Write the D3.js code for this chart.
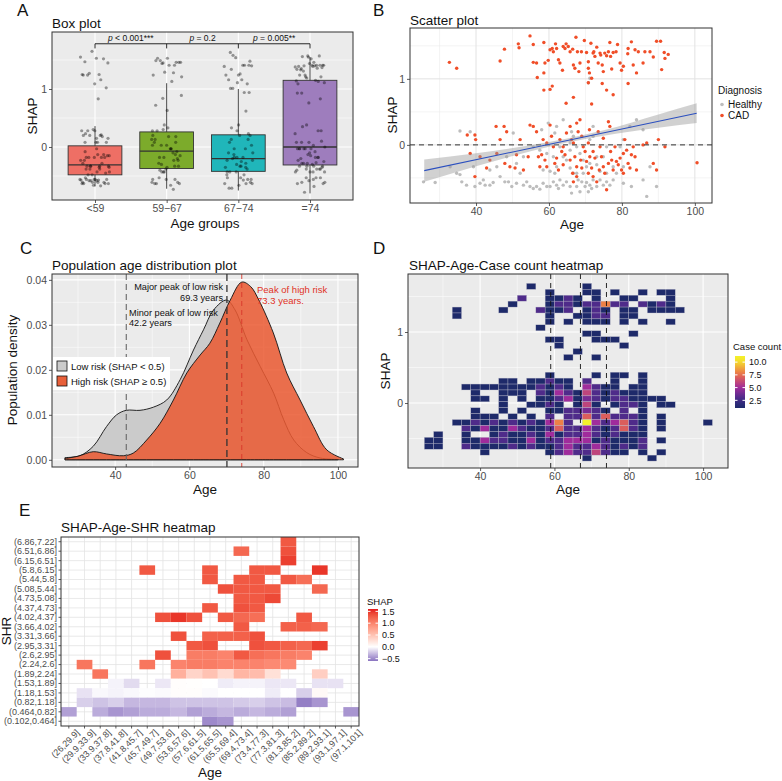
<!DOCTYPE html>
<html>
<head>
<meta charset="utf-8">
<script src="https://cdn.jsdelivr.net/npm/d3@7"></script>
<style>
body { margin: 0; background: #fff; }
svg { font-family: "Liberation Sans", Arial, sans-serif; }
</style>
</head>
<body>
<svg width="782" height="781"></svg>
<script>
// ---- data ----

// A: box plot per age group
var ageGroups = ["<59", "59\u221267", "67\u221274", "=74"];
var groupBreaks = [59, 67, 74];
var boxLower  = [-0.68, -0.72, -0.75, -0.80];
var boxQ1     = [-0.48, -0.37, -0.42, -0.31];
var boxMedian = [-0.31, -0.07, -0.20, 0.00];
var boxQ3     = [0.02, 0.26, 0.21, 1.15];
var boxUpper  = [0.36, 1.10, 1.00, 1.55];
var boxColors = ["#ee6f65", "#7cab2b", "#20b6ba", "#9e7dbd"];
var pValues = ["< 0.001***", "= 0.2", "= 0.005**"];

// B: scatter (age, SHAP)
var cadPoints = [
  [32.7,1.25],[34.7,1.16],[46.6,1.27],[47.8,1.45],[51.6,1.53],[51.8,1.47],[55.7,1.52],[54.8,1.65],[58.6,1.55],
  [55.7,1.25],[56.6,1.24],[56.8,1.02],[58.6,1.09],[58.9,1.24],[59.8,1.28],[60.3,1.44],[60.9,1.46],[61.2,1.41],
  [61.8,1.53],[62.1,1.46],[62.6,1.29],[63.0,1.24],[63.7,1.13],[63.9,1.49],[64.4,1.46],[64.7,1.53],[65.3,1.49],
  [65.8,1.41],[66.5,1.45],[66.7,1.21],[67.1,1.16],[67.4,1.63],[67.8,1.41],[68.2,1.11],[68.5,1.24],[68.9,1.41],
  [69.7,1.58],[70.3,1.40],[70.8,1.26],[70.8,1.16],[71.1,1.09],[71.5,1.54],[72.1,1.39],[72.3,1.41],[72.6,1.34],
  [73.1,1.48],[73.5,1.24],[74.0,1.39],[74.2,1.36],[74.6,1.21],[74.9,1.11],[75.3,1.39],[75.8,1.35],[76.3,1.41],
  [76.7,1.55],[76.9,1.34],[77.2,1.15],[77.6,1.40],[78.4,1.41],[78.8,1.52],[79.5,1.24],[79.9,1.13],[80.4,1.19],
  [81.6,1.38],[81.7,1.46],[82.6,1.56],[83.1,1.21],[83.6,1.44],[84.0,1.09],[84.5,1.41],[85.8,1.24],[86.3,1.41],
  [87.7,1.41],[88.6,1.33],[89.5,1.57],[90.6,1.57],[90.9,1.14],[91.6,1.40],[91.8,1.31],[92.7,1.37],
  [64.7,0.63],[66.7,0.72],[71.7,0.62],[60.3,0.84],[60.9,0.89],[58.6,0.83],[74.6,0.93],[75.8,0.83],[77.6,0.76],
  [81.7,0.93],[70.8,0.94],[71.7,1.01],
  [37.6,0.15],[39.7,0.15],[39.9,0.08],[38.4,-0.13],[39.7,-0.48],[43.8,-0.23],[42.9,-0.35],[45.5,0.28],[46.6,0.08],
  [47.7,0.28],[48.4,0.20],[47.9,-0.28],[49.3,-0.33],[50.7,-0.35],[52.1,0.08],[53.0,-0.38],[54.3,-0.18],[54.8,0.30],
  [55.7,0.28],[56.6,0.20],[57.1,-0.18],[58.0,-0.15],[58.4,0.08],[58.9,-0.23],[59.4,-0.33],[60.3,0.30],[60.7,0.13],
  [61.2,-0.03],[61.6,-0.28],[62.1,-0.20],[62.6,-0.38],[63.0,0.08],[63.5,-0.10],[63.9,-0.30],[64.4,-0.15],[64.8,0.18],
  [65.8,0.28],[66.2,0.08],[66.5,-0.43],[66.7,-0.56],[67.1,-0.18],[67.6,0.33],[68.0,0.20],[68.5,0.38],[68.7,-0.23],
  [69.0,-0.35],[69.4,-0.03],[69.9,-0.10],[70.3,-0.25],[70.8,-0.43],[71.1,0.23],[71.2,-0.18],[71.7,-0.35],[72.1,-0.48],
  [72.6,-0.20],[73.1,-0.56],[73.5,0.20],[74.0,-0.03],[74.4,-0.18],[74.9,-0.33],[75.3,-0.43],[75.8,-0.68],[76.3,0.35],
  [76.7,0.28],[76.9,-0.10],[77.2,-0.23],[77.6,-0.38],[78.1,-0.03],[78.5,-0.25],[79.0,-0.30],[79.5,-0.20],[79.9,-0.38],
  [80.4,-0.13],[80.8,0.08],[81.3,-0.08],[81.7,-0.28],[82.2,-0.35],[82.6,-0.15],[83.1,-0.03],[83.6,-0.18],[84.0,-0.38],
  [85.8,0.00],[86.8,0.03],[88.6,-0.28],[89.5,-0.38],[90.0,0.08],[91.8,-0.03],[100.6,-0.27],
  [66.7,0.03],[70.8,0.03],[67.6,-0.33],[72.1,-0.10],[73.8,-0.38],[76.3,-0.28],[59.4,0.03],[63.9,-0.03],[69.0,0.13],
  [74.9,0.10],[80.4,-0.43],[67.6,-0.48],[65.8,-0.23],[57.5,-0.33],[51.1,-0.15],[45.7,-0.13],[41.1,-0.18]
];
var healthyPoints = [
  [25.6,-0.56],[28.8,-0.57],[32.9,-0.33],[35.6,-0.45],[36.1,-0.56],[37.4,-0.61],[35.6,0.21],[38.4,0.20],[39.7,-0.63],
  [41.1,-0.58],[42.0,-0.53],[42.5,-0.61],[43.8,-0.61],[44.7,-0.57],[45.7,-0.33],[46.6,-0.48],[47.9,-0.56],[48.9,-0.56],
  [49.8,-0.63],[50.2,0.18],[51.1,-0.58],[52.1,-0.43],[53.0,-0.61],[53.9,-0.56],[54.8,-0.63],[55.7,-0.66],[56.6,-0.63],
  [57.5,-0.67],[58.4,-0.58],[59.4,-0.63],[59.8,0.33],[60.3,-0.63],[61.2,-0.56],[61.6,-0.43],[62.1,-0.61],[62.6,-0.66],
  [63.0,-0.53],[63.9,-0.61],[64.8,-0.56],[65.8,-0.63],[66.2,-0.73],[66.7,-0.43],[67.6,-0.63],[68.0,-0.53],[68.5,-0.71],
  [69.0,-0.56],[69.4,-0.43],[69.9,-0.63],[70.3,-0.57],[70.8,-0.71],[71.2,-0.61],[71.7,-0.66],[72.1,-0.53],[73.1,-0.63],
  [74.0,-0.53],[74.9,-0.61],[75.8,-0.56],[76.7,-0.61],[77.6,-0.53],[80.4,-0.58],[82.6,-0.63],[85.8,-0.53],[86.8,-0.78],
  [89.5,-0.63],[55.7,-0.03],[57.5,-0.08],[59.4,-0.13],[61.2,-0.18],[62.1,0.28],[63.0,-0.03],[63.9,-0.18],[64.8,-0.23],
  [65.8,0.03],[66.7,0.13],[67.6,-0.03],[68.5,-0.13],[69.4,-0.23],[70.3,-0.33],[71.2,0.08],[72.1,0.13],[73.1,-0.30],
  [74.0,-0.40],[74.9,-0.18],[75.8,-0.03],[77.6,-0.33],[79.5,-0.03],[80.4,-0.33],[82.2,0.28],[84.0,0.38],[85.8,0.23],
  [87.7,-0.33],[71.2,1.01],[70.8,0.94],[53.0,-0.18],[51.1,-0.28],[48.4,-0.18],[43.8,-0.38],[39.3,-0.33],[34.7,-0.43],
  [58.0,0.23],[61.6,0.18],[63.9,0.38],[66.2,0.20],[58.4,-0.38],[60.3,-0.40],[62.1,-0.33],[65.8,-0.35],[67.6,-0.43],
  [71.2,-0.28],[73.1,-0.18],[75.8,-0.43],[78.5,-0.43],[80.4,0.08],[65.8,-0.08],[72.1,0.28]
];
var fitAge  = [25.8, 100.5];
var fitShap = [-0.39, 0.48];
var bandAge   = [25.8, 40, 55, 65, 75, 90, 100.5];
var bandLower = [-0.56, -0.325, -0.095, 0.037, 0.14, 0.26, 0.33];
var bandUpper = [-0.22, -0.125, -0.005, 0.097, 0.22, 0.46, 0.63];

// C: age densities
var lowRiskAge  = [26.5, 30.5, 34.1, 37.7, 40.4, 43.0, 46.7, 50.3, 53.9, 57.5, 61.1, 63.8, 66.5, 70.0, 72.3, 75.5, 79.1, 82.7, 85.4, 88.1, 91.6, 95.2, 100];
var lowRiskDens = [0.0005, 0.0009, 0.003, 0.0074, 0.0100, 0.0110, 0.0110, 0.0117, 0.0133, 0.0178, 0.0244, 0.0289, 0.0333, 0.0355, 0.0333, 0.0267, 0.0207, 0.0148, 0.0089, 0.0044, 0.0016, 0.0004, 0.0001];
var highRiskAge  = [26.5, 30, 34.1, 37.7, 42.2, 44.9, 48.5, 52.1, 55.7, 59.3, 62.9, 65.5, 68.2, 71, 74.1, 76.5, 78.7, 82.6, 86.2, 89.8, 93.4, 97, 101.5];
var highRiskDens = [0.0003, 0.0008, 0.0018, 0.0013, 0.0009, 0.0015, 0.0044, 0.0081, 0.0133, 0.0193, 0.0233, 0.0259, 0.0304, 0.0355, 0.0395, 0.0385, 0.0355, 0.0282, 0.0193, 0.0133, 0.0074, 0.0022, 0.0002];
var peakLineAges = [43.0, 70.1, 74.1];

// D: case counts per (age, SHAP) bin, top row first; '.' empty, digits base 36
var countAgeStart = 25, countAgeStep = 2.5;
var countShapStart = -0.817, countShapStep = 0.0834;
var countRows = [
  "..... ..... .1... ..1.. ..... ..... .",
  "..... ..... ...1. ..11. 1..1. 11... .",
  "..... ..... 3..11 31.1. .11.. .1... .",
  "..... ....1 ...13 31338 33.31 31... .",
  "...1. ...1. ..311 3.131 .11.1 111.. .",
  "...1. ..... ...1. .1133 .11.. ..... .",
  "..... ..... ...1. 1.111 .1.1. .1... .",
  "..... ..... ..1.. ..... ..... ..... .",
  "..... ..... ..... ..11. ..1.. ..... .",
  "..... ..... ...11 ...11 1.... ..... .",
  "..... ..... ....1 ..... .1... ..... .",
  "..... ..... ..... .1... ..... ..... .",
  "..... ..... ..... 1..1. ..... ..... .",
  "..... ..... ..... ..... ..... ..... .",
  "..... ..... ..... ..... ..... ..... .",
  "..... ..... ...1. ...1. 11.1. ..... .",
  "..... ...11 .1131 1.3.. 1..1. ..... .",
  "....1 11111 11313 1.531 1.11. ..... .",
  "..... 1..11 1.315 31631 3111. ..... .",
  "..... 11.1. 1.113 51431 33111 1.... .",
  "..... ...1. .1131 .161. 1331. 11... .",
  "..... 1..1. 1..11 33431 .3.1. ..... .",
  "..... 111.1 .1.3. 33737 3331. 1.... .",
  "...11 31313 13158 3.b53 5731. 1.... 1",
  "....3 15115 31137 33531 3731. 1.... .",
  ".1..1 ..131 13151 33531 3111. ..... .",
  "11..1 15331 15133 55513 1113. 1.... .",
  "11..3 11113 13113 53353 1313. ..... .",
  "..... .1... ...13 53363 11.1. 1.... .",
  "..... ..... ..... ..1.. ....1 ..... ."
];

// E: SHAP by SHR bin (rows, top first) and age bin (columns)
var shrBins = ["(6.86,7.22]", "(6.51,6.86]", "(6.15,6.51]", "(5.8,6.15]", "(5.44,5.8]", "(5.08,5.44]", "(4.73,5.08]",
  "(4.37,4.73]", "(4.02,4.37]", "(3.66,4.02]", "(3.31,3.66]", "(2.95,3.31]", "(2.6,2.95]", "(2.24,2.6]", "(1.89,2.24]",
  "(1.53,1.89]", "(1.18,1.53]", "(0.82,1.18]", "(0.464,0.82]", "(0.102,0.464]"];
var shrAgeBins = ["(26,29.9]", "(29.9,33.9]", "(33.9,37.8]", "(37.8,41.8]", "(41.8,45.7]", "(45.7,49.7]", "(49.7,53.6]",
  "(53.6,57.6]", "(57.6,61.5]", "(61.5,65.5]", "(65.5,69.4]", "(69.4,73.4]", "(73.4,77.3]", "(77.3,81.3]", "(81.3,85.2]",
  "(85.2,89.2]", "(89.2,93.1]", "(93.1,97.1]", "(97.1,101]"];
// [row, column, SHAP]
var shapCells = [
  [0,14,1.3],
  [1,11,1.2],[1,14,1.35],
  [2,14,1.45],
  [3,5,1.3],[3,9,1.3],[3,12,1.3],[3,13,1.3],[3,16,1.5],
  [4,9,1.3],[4,11,1.3],[4,12,1.3],[4,14,1.3],[4,15,1.15],
  [5,10,1.35],[5,11,1.3],[5,12,1.3],[5,13,1.3],[5,16,1.2],
  [6,11,1.3],[6,12,1.3],[6,13,1.4],
  [7,9,1.3],[7,11,1.35],[7,12,1.3],
  [8,6,1.35],[8,7,1.5],[8,8,1.35],[8,10,1.3],[8,11,1.2],[8,12,1.15],[8,15,1.3],
  [9,11,1.3],[9,14,1.25],[9,15,1.25],[9,16,1.2],
  [10,7,1.35],[10,9,1.25],[10,10,1.25],[10,11,1.25],[10,12,1.35],
  [11,8,1.3],[11,9,1.35],[11,12,1.35],[11,13,1.3],[11,14,1.25],[11,15,1.2],[11,16,1.45],
  [12,6,1.35],[12,8,1.05],[12,9,1.05],[12,10,1.0],[12,11,1.3],[12,12,1.15],[12,13,1.1],[12,14,1.05],[12,15,1.0],
  [13,1,1.1],[13,5,1.1],[13,7,1.0],[13,8,1.05],[13,9,1.05],[13,10,1.0],[13,11,1.0],[13,12,1.0],[13,13,0.95],[13,14,0.95],
  [14,2,1.1],[14,7,0.65],[14,8,0.35],[14,9,0.5],[14,10,0.3],[14,11,0.6],[14,12,0.55],[14,13,0.25],[14,16,0.4],
  [15,3,-0.05],[15,4,-0.15],[15,6,-0.1],[15,7,0.02],[15,8,0.01],[15,9,0.0],[15,10,-0.08],[15,11,-0.05],[15,12,-0.05],
  [15,13,-0.1],[15,14,-0.1],[15,16,-0.12],[15,17,-0.12],
  [16,1,-0.12],[16,2,-0.03],[16,3,-0.05],[16,4,-0.03],[16,5,-0.01],[16,6,-0.02],[16,7,0.02],[16,8,0.02],[16,9,-0.02],
  [16,10,0.0],[16,11,0.0],[16,12,0.0],[16,13,-0.08],[16,14,0.0],[16,15,-0.2],[16,16,0.05],
  [17,1,-0.2],[17,2,-0.25],[17,3,-0.2],[17,4,-0.3],[17,5,-0.3],[17,6,-0.3],[17,7,-0.25],[17,8,-0.25],[17,9,-0.25],
  [17,10,-0.25],[17,11,-0.22],[17,12,-0.2],[17,13,-0.25],[17,14,-0.28],[17,15,-0.55],[17,16,-0.45],
  [18,0,-0.4],[18,2,-0.35],[18,3,-0.45],[18,4,-0.4],[18,5,-0.35],[18,6,-0.35],[18,7,-0.3],[18,8,-0.4],[18,9,-0.35],
  [18,10,-0.3],[18,11,-0.35],[18,12,-0.3],[18,13,-0.35],[18,14,-0.4],[18,18,-0.45],
  [19,9,-0.5],[19,10,-0.45]
];

// ---- drawing ----
var svg = d3.select("svg");
var sans = '"Liberation Sans", Arial, sans-serif';
var narrow = '"Liberation Sans Narrow", "Arial Narrow", "Liberation Sans", sans-serif';
var tickGrey = "#4d4d4d";

function label(x, y, s, size, anchor, fill) {
  return svg.append("text").attr("x", x).attr("y", y).attr("font-size", size)
    .attr("text-anchor", anchor || "start").attr("fill", fill || "#111").text(s);
}
function vlabel(x, y, s, size) {
  return svg.append("text").attr("transform", "translate(" + x + "," + y + ") rotate(-90)")
    .attr("font-size", size).attr("text-anchor", "middle").attr("fill", "#111").text(s);
}
function styleAxis(g, size) {
  g.select(".domain").remove();
  g.selectAll(".tick line").attr("stroke", "#333").attr("stroke-width", 0.8);
  g.selectAll(".tick text").attr("fill", tickGrey).attr("font-size", size || 10.5).attr("font-family", sans);
}
function border(x0, y0, x1, y1) {
  svg.append("rect").attr("x", x0).attr("y", y0).attr("width", x1 - x0).attr("height", y1 - y0)
    .attr("fill", "none").attr("stroke", "#333").attr("stroke-width", 1);
}
function grid(g, xs, ys, xTicks, yTicks, color, w, x0, x1, y0, y1) {
  xTicks.forEach(function(t) {
    g.append("line").attr("x1", xs(t)).attr("x2", xs(t)).attr("y1", y0).attr("y2", y1).attr("stroke", color).attr("stroke-width", w);
  });
  yTicks.forEach(function(t) {
    g.append("line").attr("y1", ys(t)).attr("y2", ys(t)).attr("x1", x0).attr("x2", x1).attr("stroke", color).attr("stroke-width", w);
  });
}

// panel letters
label(17, 16, "A", 17); label(373, 16, "B", 17);
label(20, 254, "C", 17); label(373, 254, "D", 17);
label(19, 516, "E", 17);

// ===== A: box plot =====
(function() {
  var L = 52, R = 353, T = 32, B = 200;
  var x = d3.scalePoint().domain(ageGroups).range([L, R]).padding(0.6);
  var y = d3.scaleLinear().domain([-0.914, 1.983]).range([B, T]);
  var g = svg.append("g");
  g.append("rect").attr("x", L).attr("y", T).attr("width", R - L).attr("height", B - T).attr("fill", "#ebebeb");
  grid(g, x, y, [], [-0.5, 0.5, 1.5], "#fff", 0.5, L, R, T, B);
  grid(g, x, y, ageGroups, [0, 1], "#fff", 1.1, L, R, T, B);

  var bw = x.step() * 0.75;
  ageGroups.forEach(function(k, i) {
    var cx = x(k);
    g.append("line").attr("x1", cx).attr("x2", cx).attr("y1", y(boxUpper[i])).attr("y2", y(boxLower[i]))
      .attr("stroke", "#333").attr("stroke-width", 0.9);
    g.append("rect").attr("x", cx - bw / 2).attr("width", bw).attr("y", y(boxQ3[i])).attr("height", y(boxQ1[i]) - y(boxQ3[i]))
      .attr("fill", boxColors[i]).attr("stroke", "#333").attr("stroke-width", 0.9);
    g.append("line").attr("x1", cx - bw / 2).attr("x2", cx + bw / 2).attr("y1", y(boxMedian[i])).attr("y2", y(boxMedian[i]))
      .attr("stroke", "#333").attr("stroke-width", 1.3);
  });

  // jittered points: the patients of panel B split into the age groups
  var all = healthyPoints.concat(cadPoints);
  all.forEach(function(p, i) {
    var gi = d3.bisectRight(groupBreaks, p[0]);
    var off = (((i * 0.618034) % 1) - 0.5) * 0.42 * x.step();
    g.append("circle").attr("cx", x(ageGroups[gi]) + off).attr("cy", y(p[1])).attr("r", 1.6)
      .attr("fill", "#000").attr("fill-opacity", 0.38);
  });

  // significance brackets
  var yb = y(1.78), yt = y(1.70);
  g.append("line").attr("x1", x(ageGroups[0])).attr("x2", x(ageGroups[3])).attr("y1", yb).attr("y2", yb).attr("stroke", "#111").attr("stroke-width", 0.9);
  ageGroups.forEach(function(k) {
    g.append("line").attr("x1", x(k)).attr("x2", x(k)).attr("y1", yb).attr("y2", yt).attr("stroke", "#111").attr("stroke-width", 0.9);
  });
  pValues.forEach(function(s, i) {
    var t = g.append("text").attr("x", (x(ageGroups[i]) + x(ageGroups[i + 1])) / 2).attr("y", yb - 3)
      .attr("text-anchor", "middle").attr("font-size", 8.5).attr("font-family", narrow).attr("fill", "#111");
    t.append("tspan").attr("font-style", "italic").text("p");
    t.append("tspan").text(" " + s);
  });

  border(L, T, R, B);
  styleAxis(svg.append("g").attr("transform", "translate(0," + B + ")").call(d3.axisBottom(x).tickSize(3).tickPadding(2)));
  styleAxis(svg.append("g").attr("transform", "translate(" + L + ",0)").call(d3.axisLeft(y).tickValues([0, 1]).tickFormat(d3.format("d")).tickSize(3).tickPadding(2)));
  label(52, 28, "Box plot", 13.5);
  label(205, 228, "Age groups", 13.5, "middle");
  vlabel(37, 116, "SHAP", 13.5);
})();

// ===== B: scatter =====
(function() {
  var L = 410, R = 712, T = 28, B = 203;
  var x = d3.scaleLinear().domain([21.9, 104.7]).range([L, R]);
  var y = d3.scaleLinear().domain([-0.88, 1.77]).range([B, T]);
  var g = svg.append("g");
  g.append("rect").attr("x", L).attr("y", T).attr("width", R - L).attr("height", B - T).attr("fill", "#fff");
  grid(g, x, y, [30, 50, 70, 90], [-0.5, 0.5, 1.5], "#ececec", 0.6, L, R, T, B);
  grid(g, x, y, [40, 60, 80, 100], [0, 1], "#e3e3e3", 1, L, R, T, B);

  healthyPoints.forEach(function(p) {
    g.append("circle").attr("cx", x(p[0])).attr("cy", y(p[1])).attr("r", 1.7).attr("fill", "#bdbdbd");
  });
  cadPoints.forEach(function(p) {
    g.append("circle").attr("cx", x(p[0])).attr("cy", y(p[1])).attr("r", 1.7).attr("fill", "#f04e28");
  });
  g.append("line").attr("x1", L).attr("x2", R).attr("y1", y(0)).attr("y2", y(0))
    .attr("stroke", "#333").attr("stroke-width", 1).attr("stroke-dasharray", "5,4");

  var band = d3.area().x(function(d, i) { return x(bandAge[i]); })
    .y0(function(d, i) { return y(bandLower[i]); }).y1(function(d, i) { return y(bandUpper[i]); })
    .curve(d3.curveMonotoneX);
  g.append("path").attr("d", band(bandAge)).attr("fill", "#9a9a9a").attr("fill-opacity", 0.45);
  g.append("line").attr("x1", x(fitAge[0])).attr("x2", x(fitAge[1])).attr("y1", y(fitShap[0])).attr("y2", y(fitShap[1]))
    .attr("stroke", "#2b4fbf").attr("stroke-width", 1.1);

  border(L, T, R, B);
  styleAxis(svg.append("g").attr("transform", "translate(0," + B + ")").call(d3.axisBottom(x).tickValues([40, 60, 80, 100]).tickSize(3).tickPadding(2)));
  styleAxis(svg.append("g").attr("transform", "translate(" + L + ",0)").call(d3.axisLeft(y).tickValues([0, 1]).tickFormat(d3.format("d")).tickSize(3).tickPadding(2)));
  label(410, 25, "Scatter plot", 13.5);
  label(572, 229, "Age", 13.5, "middle");
  vlabel(397, 115, "SHAP", 13.5);

  // legend
  label(718, 94, "Diagnosis", 10);
  [["Healthy", "#bdbdbd"], ["CAD", "#f04e28"]].forEach(function(d, i) {
    svg.append("circle").attr("cx", 722).attr("cy", 104.5 + i * 11).attr("r", 1.8).attr("fill", d[1]);
    label(728, 108 + i * 11, d[0], 10);
  });
})();

// ===== C: density =====
(function() {
  var L = 52, R = 358, T = 274, B = 467;
  var x = d3.scaleLinear().domain([23.0, 105.4]).range([L, R]);
  var y = d3.scaleLinear().domain([-0.0016, 0.0413]).range([B, T]);
  var g = svg.append("g");
  g.append("rect").attr("x", L).attr("y", T).attr("width", R - L).attr("height", B - T).attr("fill", "#ebebeb");
  grid(g, x, y, [30, 50, 70, 90], [0.005, 0.015, 0.025, 0.035], "#fff", 0.5, L, R, T, B);
  grid(g, x, y, [40, 60, 80, 100], [0, 0.01, 0.02, 0.03, 0.04], "#fff", 1.1, L, R, T, B);

  var area = function(ages) {
    return d3.area().x(function(d, i) { return x(ages[i]); }).y0(y(0)).y1(function(d) { return y(d); })
      .curve(d3.curveCatmullRom.alpha(0.5));
  };
  g.append("path").attr("d", area(lowRiskAge)(lowRiskDens)).attr("fill", "#cbcbcb").attr("stroke", "#111").attr("stroke-width", 0.9);
  g.append("path").attr("d", area(highRiskAge)(highRiskDens)).attr("fill", "#ea5a32").attr("fill-opacity", 0.86)
    .attr("stroke", "#111").attr("stroke-width", 0.9);

  var styles = [["#666", "6,4", 1.1], ["#333", "7,4", 1.3], ["#d8352a", "5,4", 0.9]];
  peakLineAges.forEach(function(a, i) {
    g.append("line").attr("x1", x(a)).attr("x2", x(a)).attr("y1", T).attr("y2", B)
      .attr("stroke", styles[i][0]).attr("stroke-dasharray", styles[i][1]).attr("stroke-width", styles[i][2]);
  });

  var note = function(xp, yp, s, anchor, fill, fam, size) {
    label(xp, yp, s, size || 9.2, anchor, fill).attr("font-family", fam || narrow);
  };
  note(223, 290, "Major peak of low risk", "end");
  note(223, 301, "69.3 years", "end");
  note(129, 315.5, "Minor peak of low risk", "start");
  note(129, 326, "42.2 years", "start");
  note(257, 292.5, "Peak of high risk", "start", "#e0321f", sans, 9.5);
  note(257, 303.5, "73.3 years.", "start", "#e0321f", sans, 9.5);

  // legend
  svg.append("rect").attr("x", 53).attr("y", 357).attr("width", 117).attr("height", 33).attr("fill", "#fff");
  [["Low risk (SHAP < 0.5)", "#cbcbcb"], ["High risk (SHAP \u2265 0.5)", "#e8603a"]].forEach(function(d, i) {
    svg.append("rect").attr("x", 57).attr("y", 361 + i * 15).attr("width", 10).attr("height", 10)
      .attr("fill", d[1]).attr("stroke", "#111").attr("stroke-width", 0.8);
    note(71, 369.5 + i * 15, d[0], "start", "#111", narrow, 9.5);
  });

  border(L, T, R, B);
  styleAxis(svg.append("g").attr("transform", "translate(0," + B + ")").call(d3.axisBottom(x).tickValues([40, 60, 80, 100]).tickSize(3).tickPadding(2)));
  styleAxis(svg.append("g").attr("transform", "translate(" + L + ",0)").call(d3.axisLeft(y).tickValues([0, 0.01, 0.02, 0.03, 0.04]).tickFormat(d3.format(".2f")).tickSize(3).tickPadding(2)));
  label(52, 270, "Population age distribution plot", 13.5);
  label(205, 494, "Age", 13.5, "middle");
  vlabel(17, 370, "Population density", 13.5);
})();

// ===== D: case count heatmap =====
(function() {
  var L = 408, R = 728, T = 274, B = 468;
  var x = d3.scaleLinear().domain([20.6, 106.7]).range([L, R]);
  var y = d3.scaleLinear().domain([-0.915, 1.817]).range([B, T]);
  var color = d3.scaleLinear().domain([1, 2.5, 5, 7.5, 10, 11])
    .range(["#1e2a6a", "#3b2b86", "#a02c9c", "#ea6a4c", "#f5d92c", "#f3f22a"]);
  var g = svg.append("g");
  g.append("rect").attr("x", L).attr("y", T).attr("width", R - L).attr("height", B - T).attr("fill", "#ebebeb");
  grid(g, x, y, [30, 50, 70, 90], [-0.5, 0.5, 1.5], "#fff", 0.5, L, R, T, B);
  grid(g, x, y, [40, 60, 80, 100], [0, 1], "#fff", 1.1, L, R, T, B);

  var cells = [];
  countRows.forEach(function(row, r) {
    var s = row.replace(/ /g, "");
    var i = countRows.length - 1 - r;
    for (var j = 0; j < s.length; j++) {
      if (s[j] === ".") continue;
      cells.push({ a: countAgeStart + j * countAgeStep, v: countShapStart + i * countShapStep, n: parseInt(s[j], 36) });
    }
  });
  g.selectAll("rect.cell").data(cells).enter().append("rect").attr("class", "cell")
    .attr("x", function(d) { return x(d.a); }).attr("width", function(d) { return x(d.a + countAgeStep) - x(d.a); })
    .attr("y", function(d) { return y(d.v + countShapStep); }).attr("height", function(d) { return y(d.v) - y(d.v + countShapStep); })
    .attr("fill", function(d) { return color(d.n); }).attr("stroke", "#b9b9c9").attr("stroke-width", 0.35);

  groupBreaks.forEach(function(a) {
    g.append("line").attr("x1", x(a)).attr("x2", x(a)).attr("y1", T).attr("y2", B)
      .attr("stroke", "#111").attr("stroke-width", 0.9).attr("stroke-dasharray", "5,4");
  });

  border(L, T, R, B);
  styleAxis(svg.append("g").attr("transform", "translate(0," + B + ")").call(d3.axisBottom(x).tickValues([40, 60, 80, 100]).tickSize(3).tickPadding(2)));
  styleAxis(svg.append("g").attr("transform", "translate(" + L + ",0)").call(d3.axisLeft(y).tickValues([0, 1]).tickFormat(d3.format("d")).tickSize(3).tickPadding(2)));
  label(409, 270, "SHAP-Age-Case count heatmap", 13.5);
  label(568, 494, "Age", 13.5, "middle");
  vlabel(390, 371, "SHAP", 13.5);

  // colour bar
  var ly = d3.scaleLinear().domain([1, 11.2]).range([408, 356]);
  var grad = svg.append("defs").append("linearGradient").attr("id", "countGrad")
    .attr("x1", 0).attr("x2", 0).attr("y1", 1).attr("y2", 0);
  d3.range(0, 11).forEach(function(k) {
    var v = 1 + k * 1.02;
    grad.append("stop").attr("offset", (v - 1) / 10.2).attr("stop-color", color(Math.min(v, 11)));
  });
  label(733, 350, "Case count", 9.5);
  svg.append("rect").attr("x", 735).attr("y", 356).attr("width", 10).attr("height", 52).attr("fill", "url(#countGrad)");
  [2.5, 5, 7.5, 10].forEach(function(v) {
    svg.append("line").attr("x1", 735).attr("x2", 737.5).attr("y1", ly(v)).attr("y2", ly(v)).attr("stroke", "#fff");
    svg.append("line").attr("x1", 742.5).attr("x2", 745).attr("y1", ly(v)).attr("y2", ly(v)).attr("stroke", "#fff");
    label(749, ly(v) + 3.3, d3.format(".1f")(v), 9, "start", "#111");
  });
})();

// ===== E: SHAP-Age-SHR heatmap =====
(function() {
  var L = 61, R = 359, T = 537, B = 726;
  var x = d3.scaleBand().domain(shrAgeBins).range([L, R]);
  var y = d3.scaleBand().domain(shrBins).range([T, B]);
  var color = d3.scaleLinear().domain([-0.6, 0, 1.6]).range(["#8a74c0", "#ffffff", "#e41a1c"]).interpolate(d3.interpolateLab);
  var g = svg.append("g");
  g.append("rect").attr("x", L).attr("y", T).attr("width", R - L).attr("height", B - T).attr("fill", "#fff");
  shrAgeBins.forEach(function(k) {
    var cx = x(k) + x.bandwidth() / 2;
    g.append("line").attr("x1", cx).attr("x2", cx).attr("y1", T).attr("y2", B).attr("stroke", "#e3e3e3").attr("stroke-width", 0.8);
  });
  shrBins.forEach(function(k) {
    var cy = y(k) + y.bandwidth() / 2;
    g.append("line").attr("x1", L).attr("x2", R).attr("y1", cy).attr("y2", cy).attr("stroke", "#e3e3e3").attr("stroke-width", 0.8);
  });
  g.selectAll("rect.cell").data(shapCells).enter().append("rect").attr("class", "cell")
    .attr("x", function(d) { return x(shrAgeBins[d[1]]); }).attr("width", x.bandwidth())
    .attr("y", function(d) { return y(shrBins[d[0]]); }).attr("height", y.bandwidth())
    .attr("fill", function(d) { return color(d[2]); });

  border(L, T, R, B);
  var ay = svg.append("g").attr("transform", "translate(" + L + ",0)").call(d3.axisLeft(y).tickSize(2.5).tickPadding(1.5));
  styleAxis(ay, 8);
  ay.selectAll(".tick text").attr("font-family", narrow).attr("font-size", 9);
  var ax = svg.append("g").attr("transform", "translate(0," + B + ")").call(d3.axisBottom(x).tickSize(2.5).tickPadding(1.5));
  styleAxis(ax, 8);
  ax.selectAll(".tick text").attr("font-family", narrow).attr("font-size", 9)
    .attr("text-anchor", "end").attr("transform", "translate(4,0) rotate(-45)").attr("dy", "0.7em");
  label(61, 532, "SHAP-Age-SHR heatmap", 13.5);
  label(210, 777, "Age", 13.5, "middle");
  vlabel(11, 631, "SHR", 13.5);

  // colour bar
  var ly = d3.scaleLinear().domain([-0.6, 1.6]).range([661, 609]);
  var grad = svg.append("defs").append("linearGradient").attr("id", "shapGrad")
    .attr("x1", 0).attr("x2", 0).attr("y1", 1).attr("y2", 0);
  d3.range(0, 12).forEach(function(k) {
    var v = -0.6 + k * 0.2;
    grad.append("stop").attr("offset", (v + 0.6) / 2.2).attr("stop-color", color(v));
  });
  label(367, 605, "SHAP", 9.5);
  svg.append("rect").attr("x", 368).attr("y", 609).attr("width", 10).attr("height", 52).attr("fill", "url(#shapGrad)");
  [-0.5, 0, 0.5, 1, 1.5].forEach(function(v) {
    svg.append("line").attr("x1", 368).attr("x2", 370.5).attr("y1", ly(v)).attr("y2", ly(v)).attr("stroke", "#fff");
    svg.append("line").attr("x1", 375.5).attr("x2", 378).attr("y1", ly(v)).attr("y2", ly(v)).attr("stroke", "#fff");
    label(382, ly(v) + 3.3, v < 0 ? "\u22120.5" : d3.format(".1f")(v), 9, "start", "#111");
  });
})();
</script>
</body>
</html>
